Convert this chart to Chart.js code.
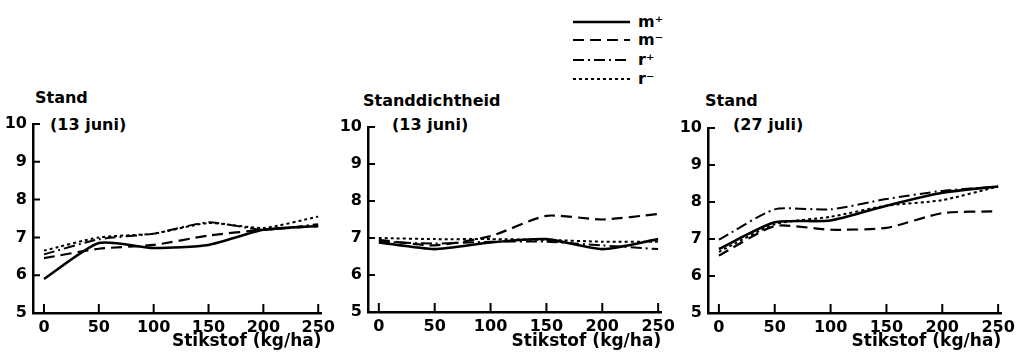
<!DOCTYPE html>
<html>
<head>
<meta charset="utf-8">
<script src="https://cdn.jsdelivr.net/npm/chart.js@4.4.1/dist/chart.umd.min.js"></script>
<style>
  body { margin: 0; background: #fff; }
  #wrap { position: relative; width: 1020px; height: 354px; overflow: hidden; font-family: "DejaVu Sans", sans-serif; color: #000; }
  .panel { position: absolute; top: 100px; width: 340px; height: 254px; }
  .lbl { position: absolute; font-weight: bold; font-size: 16px; line-height: 1; white-space: nowrap; }
  .leg { position: absolute; left: 573px; height: 18px; display: flex; align-items: center; }
  .leg span { margin-left: 8px; font-weight: bold; font-size: 16px; line-height: 1; }
</style>
</head>
<body>
<div id="wrap">
  <div class="lbl" style="left:35px;top:90px">Stand</div>
  <div class="lbl" style="left:50px;top:117px">(13 juni)</div>
  <div class="lbl" style="left:363px;top:93px">Standdichtheid</div>
  <div class="lbl" style="left:392px;top:117px">(13 juni)</div>
  <div class="lbl" style="left:705px;top:93px">Stand</div>
  <div class="lbl" style="left:733px;top:117px">(27 juli)</div>
  <div id="legend"></div>
  <div class="panel" style="left:0px"><canvas id="c1" width="340" height="254"></canvas></div>
  <div class="panel" style="left:340px"><canvas id="c2" width="340" height="254"></canvas></div>
  <div class="panel" style="left:680px"><canvas id="c3" width="340" height="254"></canvas></div>
</div>
<script>
// stikstof gift (kg/ha)
const nitrogen = [0, 50, 100, 150, 200, 250];
const yTicks = [5, 6, 7, 8, 9, 10];
const seriesNames = ['m\u207A', 'm\u207B', 'r\u207A', 'r\u207B'];

// Stand (13 juni)
const stand13MPlus  = [5.9, 6.85, 6.72, 6.8, 7.2, 7.3];
const stand13MMin   = [6.45, 6.7, 6.8, 7.05, 7.2, 7.3];
const stand13RPlus  = [6.55, 6.95, 7.1, 7.4, 7.2, 7.35];
const stand13RMin   = [6.65, 7.0, 7.1, 7.38, 7.25, 7.55];

// Standdichtheid (13 juni)
const dicht13MPlus  = [6.88, 6.7, 6.88, 6.97, 6.7, 6.97];
const dicht13MMin   = [6.95, 6.8, 7.05, 7.6, 7.5, 7.65];
const dicht13RPlus  = [6.9, 6.85, 6.9, 6.9, 6.8, 6.7];
const dicht13RMin   = [7.0, 6.97, 6.97, 6.95, 6.9, 6.9];

// Stand (27 juli)
const stand27MPlus  = [6.73, 7.45, 7.5, 7.9, 8.25, 8.42];
const stand27MMin   = [6.55, 7.35, 7.25, 7.3, 7.7, 7.75];
const stand27RPlus  = [6.98, 7.8, 7.8, 8.08, 8.3, 8.42];
const stand27RMin   = [6.65, 7.4, 7.6, 7.9, 8.05, 8.42];

const DASHES = [[], [11, 6], [11, 4, 2, 4], [3, 3]];
const WIDTHS = [2.6, 2.2, 2, 2];

// legend with small svg lines
const legendEl = document.getElementById('legend');
const legendY = [13, 31, 51, 70];
seriesNames.forEach(function(name, i) {
  const row = document.createElement('div');
  row.className = 'leg';
  row.style.top = legendY[i] + 'px';
  row.innerHTML =
    '<svg width="57" height="6"><line x1="0" y1="3" x2="57" y2="3" stroke="#000" stroke-width="' + WIDTHS[i] +
    '" stroke-dasharray="' + (DASHES[i].length ? DASHES[i].join(',') : 'none') + '"/></svg>' +
    '<span>' + name + '</span>';
  legendEl.appendChild(row);
});

// short tick marks pointing into the plot
const inwardTicks = {
  id: 'inwardTicks',
  afterDatasetsDraw: function(chart) {
    const ctx = chart.ctx;
    const a = chart.chartArea;
    const xs = chart.scales.x, ys = chart.scales.y;
    ctx.save();
    ctx.setLineDash([]);
    ctx.strokeStyle = '#000';
    ctx.lineWidth = 2;
    ctx.beginPath();
    nitrogen.forEach(function(v) {
      const px = xs.getPixelForValue(v);
      ctx.moveTo(px, a.bottom);
      ctx.lineTo(px, a.bottom - 9);
    });
    yTicks.forEach(function(v) {
      const py = ys.getPixelForValue(v);
      ctx.moveTo(a.left, py);
      ctx.lineTo(a.left + 7, py);
    });
    ctx.stroke();
    ctx.restore();
  }
};

function makeChart(id, series, opt) {
  const datasets = series.map(function(vals, i) {
    return {
      label: seriesNames[i],
      data: nitrogen.map(function(x, j) { return { x: x, y: vals[j] }; }),
      borderColor: '#000',
      borderWidth: WIDTHS[i],
      borderDash: DASHES[i],
      pointRadius: 0,
      tension: 0.2,
      fill: false
    };
  });
  const tickFont = { family: 'DejaVu Sans', size: 16, weight: 'bold' };
  return new Chart(document.getElementById(id), {
    type: 'line',
    data: { datasets: datasets },
    plugins: [inwardTicks],
    options: {
      responsive: false,
      animation: false,
      layout: { padding: { left: 0, top: opt.top, right: opt.right, bottom: 0 } },
      plugins: { legend: { display: false }, tooltip: { enabled: false } },
      scales: {
        x: {
          type: 'linear',
          min: opt.xmin,
          max: opt.xmax,
          afterBuildTicks: function(s) { s.ticks = nitrogen.map(function(v) { return { value: v }; }); },
          afterFit: function(s) { s.height = opt.xh; },
          grid: { display: false, drawTicks: false },
          border: { display: true, color: '#000', width: 2.5 },
          ticks: { color: '#000', font: tickFont, padding: 5, maxRotation: 0, autoSkip: false },
          title: {
            display: true,
            text: 'Stikstof (kg/ha)',
            align: 'end',
            color: '#000',
            font: { family: 'DejaVu Sans', size: 17, weight: 'bold' },
            padding: { top: 0, bottom: 2 }
          }
        },
        y: {
          min: 5,
          max: 10,
          afterBuildTicks: function(s) { s.ticks = yTicks.map(function(v) { return { value: v }; }); },
          afterFit: function(s) { s.width = opt.yw; },
          grid: { display: false, drawTicks: false },
          border: { display: true, color: '#000', width: 2.5 },
          ticks: { color: '#000', font: tickFont, padding: 6 }
        }
      }
    }
  });
}

makeChart('c1', [stand13MPlus, stand13MMin, stand13RPlus, stand13RMin],
  { top: 24, right: 7, xmin: -10, xmax: 253, xh: 41, yw: 33 });
makeChart('c2', [dicht13MPlus, dicht13MMin, dicht13RPlus, dicht13RMin],
  { top: 27, right: 15, xmin: -9.7, xmax: 252.7, xh: 42, yw: 28 });
makeChart('c3', [stand27MPlus, stand27MMin, stand27RPlus, stand27RMin],
  { top: 28, right: 16, xmin: -9.75, xmax: 252.7, xh: 41, yw: 28 });
</script>
</body>
</html>
